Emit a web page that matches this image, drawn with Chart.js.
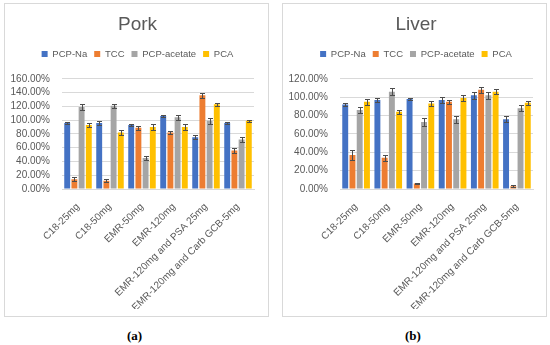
<!DOCTYPE html>
<html>
<head>
<meta charset="utf-8">
<script src="https://cdn.jsdelivr.net/npm/chart.js@4"></script>
<style>
  body { margin: 0; background: #fff; width: 550px; height: 345px; position: relative; overflow: hidden; }
  .box { position: absolute; top: 3px; border: 1px solid #d9d9d9; width: 263px; height: 312px; }
  .cap { position: absolute; top: 328px; font: bold 13px "Liberation Serif", serif; color: #000; }
</style>
</head>
<body>
<div class="box" style="left:4px"><canvas id="pork" width="263" height="312"></canvas></div>
<div class="box" style="left:282px"><canvas id="liver" width="263" height="312"></canvas></div>
<div class="cap" style="left:127px">(a)</div>
<div class="cap" style="left:405px">(b)</div>
<script>
// categories and series
const categories = ["C18-25mg", "C18-50mg", "EMR-50mg", "EMR-120mg", "EMR-120mg and PSA 25mg", "EMR-120mg and Carb GCB-5mg"];
const seriesNames = ["PCP-Na", "TCC", "PCP-acetate", "PCA"];
const colors = ["#4472c4", "#ed7d31", "#a5a5a5", "#ffc000"];

// pork recoveries (%)
const porkPcpNa = [96, 96, 93, 106, 75, 96];
const porkTcc = [14, 12, 89, 82, 136, 56];
const porkPcpAcetate = [119, 121, 45, 104, 99, 72];
const porkPca = [93, 82, 90, 90, 123, 99];
// pork error bars (+/- %)
const porkPcpNaErr = [2, 3, 2, 2, 3, 2];
const porkTccErr = [3, 2, 3, 2, 4, 4];
const porkPcpAcetateErr = [5, 3, 3, 4, 4, 4];
const porkPcaErr = [3, 3, 5, 5, 2, 1];

// liver recoveries (%)
const liverPcpNa = [92, 97, 98, 97, 102, 76];
const liverTcc = [37, 34, 6, 95, 108, 3];
const liverPcpAcetate = [86, 106, 73, 76, 102, 88];
const liverPca = [95, 84, 93, 99, 106, 94];
// liver error bars
const liverPcpNaErr = [2, 2, 1, 3, 4, 3];
const liverTccErr = [5, 3, 1, 2, 3, 1];
const liverPcpAcetateErr = [3, 4, 4, 4, 4, 3];
const liverPcaErr = [3, 2, 3, 3, 3, 2];

// tick settings
const porkMax = 160;
const liverMax = 120;
const tickStep = 20;

Chart.defaults.font.family = "'Liberation Sans', Arial, sans-serif";
Chart.defaults.color = "#595959";

// draw +/- error bars over each bar
const errorBars = {
  id: "errorBars",
  afterDatasetsDraw(chart) {
    const ctx = chart.ctx;
    const y = chart.scales.y;
    ctx.save();
    ctx.strokeStyle = "#4d4d4d";
    ctx.lineWidth = 1;
    chart.data.datasets.forEach((ds, i) => {
      const meta = chart.getDatasetMeta(i);
      meta.data.forEach((bar, j) => {
        const v = ds.data[j], e = ds.errors[j];
        const top = Math.round(y.getPixelForValue(v + e)) + 0.5;
        const bot = Math.round(y.getPixelForValue(v - e)) + 0.5;
        const x = Math.round(bar.x) + 0.5;
        ctx.beginPath();
        ctx.moveTo(x, top); ctx.lineTo(x, bot);
        ctx.moveTo(x - 2.5, top); ctx.lineTo(x + 2.5, top);
        ctx.moveTo(x - 2.5, bot); ctx.lineTo(x + 2.5, bot);
        ctx.stroke();
      });
    });
    ctx.restore();
  }
};

// extra space under the legend
const legendGap = {
  id: "legendGap",
  beforeInit(chart) {
    const fit = chart.legend.fit;
    chart.legend.fit = function () {
      fit.bind(chart.legend)();
      this.height += 10;
    };
  }
};

// title + legend are centred on the whole box in excel, not on the plot
const headerShift = {
  id: "headerShift",
  afterLayout(chart) {
    [chart.legend, chart.titleBlock].forEach(b => { b.left += 8; b.right += 8; });
  }
};

function makeChart(id, title, values, errors, max, padR) {
  return new Chart(document.getElementById(id), {
    type: "bar",
    data: {
      labels: categories,
      datasets: seriesNames.map((name, i) => ({
        label: name,
        data: values[i],
        errors: errors[i],
        backgroundColor: colors[i],
        categoryPercentage: 0.9,
        barPercentage: 0.82
      }))
    },
    plugins: [errorBars, legendGap, headerShift],
    options: {
      responsive: false,
      animation: false,
      layout: { padding: { left: 0, right: padR, bottom: 7 } },
      plugins: {
        title: {
          display: true,
          text: title,
          color: "#595959",
          font: { size: 19, weight: "normal" },
          padding: { top: 9, bottom: 6.5 }
        },
        legend: {
          labels: { boxWidth: 6, boxHeight: 6, padding: 7, font: { size: 9.5 }, color: "#595959" }
        },
        tooltip: { enabled: false }
      },
      scales: {
        x: {
          grid: { display: false },
          border: { color: "#d9d9d9" },
          ticks: { maxRotation: 45, minRotation: 45, padding: 4, font: { size: 10 } },
          afterFit: s => { s.height = 120; }
        },
        y: {
          min: 0,
          max: max,
          grid: { color: "#d9d9d9", drawTicks: false },
          border: { display: false },
          ticks: {
            stepSize: tickStep,
            autoSkip: false,
            padding: 12,
            font: { size: 10 },
            callback: v => v.toFixed(2) + "%"
          },
          afterFit: s => { s.width = 57; }
        }
      }
    }
  });
}

makeChart("pork", "Pork",
  [porkPcpNa, porkTcc, porkPcpAcetate, porkPca],
  [porkPcpNaErr, porkTccErr, porkPcpAcetateErr, porkPcaErr], porkMax, 14);
makeChart("liver", "Liver",
  [liverPcpNa, liverTcc, liverPcpAcetate, liverPca],
  [liverPcpNaErr, liverTccErr, liverPcpAcetateErr, liverPcaErr], liverMax, 13);
</script>
</body>
</html>
